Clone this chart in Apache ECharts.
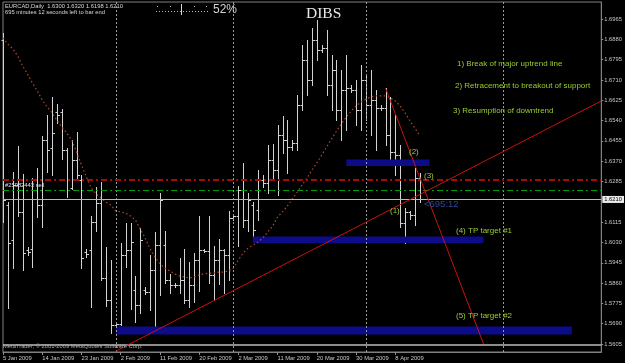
<!DOCTYPE html>
<html><head><meta charset="utf-8">
<script src="https://cdn.jsdelivr.net/npm/echarts@6/dist/echarts.min.js"></script>
<style>html,body{margin:0;padding:0;background:#000;}#c{width:625px;height:363px;}</style>
</head><body><div id="c"></div>
<script>
// ---- data ----
const dates = ['5 Jan 2009','6 Jan 2009','7 Jan 2009','8 Jan 2009','9 Jan 2009','11 Jan 2009','12 Jan 2009','13 Jan 2009','14 Jan 2009','15 Jan 2009',
'16 Jan 2009','18 Jan 2009','19 Jan 2009','20 Jan 2009','21 Jan 2009','22 Jan 2009','23 Jan 2009','25 Jan 2009','26 Jan 2009','27 Jan 2009',
'28 Jan 2009','29 Jan 2009','30 Jan 2009','1 Feb 2009','2 Feb 2009','3 Feb 2009','4 Feb 2009','5 Feb 2009','6 Feb 2009','8 Feb 2009',
'9 Feb 2009','10 Feb 2009','11 Feb 2009','12 Feb 2009','13 Feb 2009','15 Feb 2009','16 Feb 2009','17 Feb 2009','18 Feb 2009','19 Feb 2009',
'20 Feb 2009','22 Feb 2009','23 Feb 2009','24 Feb 2009','25 Feb 2009','26 Feb 2009','27 Feb 2009','1 Mar 2009','2 Mar 2009','3 Mar 2009',
'4 Mar 2009','5 Mar 2009','6 Mar 2009','8 Mar 2009','9 Mar 2009','10 Mar 2009','11 Mar 2009','12 Mar 2009','13 Mar 2009','15 Mar 2009',
'16 Mar 2009','17 Mar 2009','18 Mar 2009','19 Mar 2009','20 Mar 2009','22 Mar 2009','23 Mar 2009','24 Mar 2009','25 Mar 2009','26 Mar 2009',
'27 Mar 2009','29 Mar 2009','30 Mar 2009','31 Mar 2009','1 Apr 2009','2 Apr 2009','3 Apr 2009','5 Apr 2009','6 Apr 2009','7 Apr 2009',
'8 Apr 2009','9 Apr 2009','10 Apr 2009','12 Apr 2009','13 Apr 2009','14 Apr 2009'];
const opens = [1.6877,1.6187,1.6040,1.6270,1.6157,1.5999,1.6003,1.6250,1.6187,1.6459,
1.6426,1.6576,1.6576,1.6417,1.6258,1.6375,1.6291,1.5990,1.5999,1.6116,
1.6195,1.5881,1.5789,1.5685,1.5689,1.5978,1.5999,1.5831,1.5768,1.5831,
1.5823,1.5915,1.6019,1.6019,1.5873,1.5852,1.5852,1.5873,1.5789,1.5852,
1.5957,1.5999,1.5994,1.5894,1.5957,1.5999,1.5978,1.6132,1.6141,1.6250,
1.6124,1.6187,1.6166,1.6291,1.6279,1.6375,1.6333,1.6480,1.6459,1.6430,
1.6446,1.6605,1.6793,1.6710,1.6877,1.6835,1.6844,1.6689,1.6752,1.6584,
1.6668,1.6676,1.6668,1.6584,1.6710,1.6605,1.6626,1.6593,1.6593,1.6480,
1.6409,1.6396,1.6112,1.6157,1.6145,1.6300];
const highs = [1.6906,1.6200,1.6325,1.6434,1.6317,1.6011,1.6300,1.6342,1.6475,1.6563,
1.6639,1.6609,1.6588,1.6425,1.6459,1.6492,1.6312,1.6003,1.6141,1.6262,
1.6283,1.6011,1.5957,1.5698,1.6028,1.6112,1.6112,1.5890,1.6091,1.5844,
1.5978,1.6074,1.6237,1.6078,1.5898,1.5860,1.5965,1.6003,1.5948,1.5986,
1.6141,1.6003,1.6141,1.6015,1.6045,1.6003,1.6162,1.6149,1.6266,1.6363,
1.6237,1.6200,1.6333,1.6312,1.6438,1.6442,1.6521,1.6559,1.6542,1.6459,
1.6647,1.6856,1.6877,1.6927,1.6961,1.6856,1.6919,1.6814,1.6793,1.6752,
1.6814,1.6689,1.6710,1.6772,1.6731,1.6752,1.6668,1.6605,1.6676,1.6639,
1.6563,1.6438,1.6174,1.6162,1.6342,1.6320];
const lows = [1.6115,1.5756,1.5923,1.6141,1.5915,1.5978,1.5927,1.6137,1.6095,1.6325,
1.6312,1.6530,1.6379,1.6220,1.6254,1.6291,1.5923,1.5969,1.5760,1.6078,
1.5873,1.5764,1.5651,1.5677,1.5685,1.5927,1.5751,1.5697,1.5735,1.5814,
1.5747,1.5676,1.5810,1.5860,1.5818,1.5844,1.5818,1.5777,1.5760,1.5781,
1.5827,1.5990,1.5860,1.5793,1.5856,1.5818,1.5873,1.6124,1.6015,1.6095,
1.6078,1.6049,1.6124,1.6262,1.6237,1.6291,1.6229,1.6404,1.6321,1.6417,
1.6417,1.6584,1.6647,1.6689,1.6793,1.6826,1.6647,1.6584,1.6542,1.6459,
1.6501,1.6660,1.6521,1.6501,1.6542,1.6480,1.6417,1.6584,1.6438,1.6375,
1.6312,1.6095,1.6028,1.6128,1.6103,1.6198];
const closes = [1.6208,1.6028,1.6270,1.6157,1.5986,1.5990,1.6250,1.6187,1.6459,1.6417,
1.6488,1.6563,1.6417,1.6250,1.6375,1.6312,1.5965,1.5982,1.6116,1.6195,
1.5881,1.5789,1.5685,1.5689,1.5978,1.5999,1.6032,1.5768,1.6040,1.5823,
1.5915,1.6019,1.6208,1.5873,1.5852,1.5852,1.5873,1.5789,1.5852,1.5957,
1.5999,1.5994,1.5894,1.5957,1.5999,1.5978,1.6132,1.6141,1.6250,1.6124,
1.6208,1.6082,1.6291,1.6279,1.6375,1.6333,1.6480,1.6459,1.6430,1.6446,
1.6605,1.6793,1.6710,1.6877,1.6835,1.6844,1.6689,1.6752,1.6584,1.6668,
1.6676,1.6668,1.6584,1.6710,1.6605,1.6626,1.6593,1.6593,1.6480,1.6409,
1.6396,1.6112,1.6157,1.6145,1.6300,1.6210];
const movingAverage = [1.6886,1.6860,1.6840,1.6810,1.6768,1.6735,1.6697,1.6664,1.6626,1.6597,
1.6572,1.6542,1.6513,1.6488,1.6459,1.6409,1.6354,1.6304,1.6258,1.6233,
1.6216,1.6199,1.6187,1.6162,1.6158,1.6153,1.6141,1.6124,1.6086,1.6049,
1.6003,1.5969,1.5940,1.5923,1.5911,1.5898,1.5890,1.5886,1.5881,1.5886,
1.5894,1.5898,1.5902,1.5902,1.5906,1.5906,1.5911,1.5923,1.5957,1.5986,
1.6007,1.6019,1.6032,1.6049,1.6074,1.6099,1.6137,1.6158,1.6183,1.6212,
1.6241,1.6271,1.6300,1.6333,1.6363,1.6396,1.6429,1.6463,1.6496,1.6526,
1.6555,1.6580,1.6601,1.6618,1.6630,1.6639,1.6643,1.6643,1.6643,1.6635,
1.6622,1.6601,1.6572,1.6538,1.6509,1.6476];
const xTickLabels = ['5 Jan 2009','14 Jan 2009','23 Jan 2009','2 Feb 2009','11 Feb 2009','20 Feb 2009','2 Mar 2009','11 Mar 2009','20 Mar 2009','30 Mar 2009','8 Apr 2009'];
const yTickLabels = [1.5605,1.5690,1.5775,1.5860,1.5945,1.6030,1.6115,1.6285,1.6370,1.6455,1.6540,1.6625,1.6710,1.6795,1.6880,1.6965];
const bidPrice = 1.6210;
const orderPrice = 1.6291;
const targetLevel = 1.6247;
const floorLevel = 1.5600;
const separatorIdx = [23, 47, 74, 102];
const zones = [[70, 87, 1.6377, 1.6350], [51, 98, 1.6055, 1.6028], [23, 116, 1.5678, 1.5645]];
const uptrend = [[23, 1.5575], [122, 1.6622]];
const downtrend = [[78, 1.6676], [98, 1.5605]];
const futureSlots = 37;

// ---- build ----
const categories = dates.concat(Array.from({length: futureSlots}, (_, k) => 'f' + k));
const ohlc = dates.map((d, i) => [i, opens[i], closes[i], lows[i], highs[i]]);
const SMALL = 'Liberation Sans';
const BAR_COLOR = '#d2d2d2';
const showTick = (idx, val) => xTickLabels.indexOf(val) >= 0;

function renderOHLC(params, api) {
  const i = api.value(0);
  const pO = api.coord([i, api.value(1)]);
  const pC = api.coord([i, api.value(2)]);
  const pL = api.coord([i, api.value(3)]);
  const pH = api.coord([i, api.value(4)]);
  const x = Math.round(pH[0]) + 0.5;
  const yo = Math.round(pO[1]) + 0.5, yc = Math.round(pC[1]) + 0.5;
  const st = {stroke: BAR_COLOR, lineWidth: 1};
  return {type: 'group', children: [
    {type: 'line', shape: {x1: x, y1: Math.round(pH[1]), x2: x, y2: Math.round(pL[1]) + 1}, style: st},
    {type: 'line', shape: {x1: x - 2, y1: yo, x2: x, y2: yo}, style: st},
    {type: 'line', shape: {x1: x, y1: yc, x2: x + 2.5, y2: yc}, style: st}
  ]};
}

const markLines = [];
separatorIdx.forEach(s => markLines.push({xAxis: s, lineStyle: {color: '#9a9a9a', type: [2, 2], width: 1}}));
markLines.push({yAxis: floorLevel, lineStyle: {color: '#bdbdbd', type: 'solid', width: 1.5}});
markLines.push({yAxis: orderPrice, lineStyle: {color: '#a00c0c', type: [6, 3, 2, 3], width: 2}});
markLines.push({yAxis: targetLevel, lineStyle: {color: '#00a000', type: [6, 3, 2, 3], width: 1}});
markLines.push({yAxis: bidPrice, lineStyle: {color: '#cbb690', type: 'solid', width: 1},
  label: {show: true, position: 'end', distance: 1, formatter: bidPrice.toFixed(4), color: '#000',
    backgroundColor: '#ececec', padding: [1, 2, 0, 2], fontSize: 5.8, fontFamily: SMALL}});
markLines.push([{coord: uptrend[0]}, {coord: uptrend[1], lineStyle: {color: '#c81212', width: 1, type: 'solid'}}]);
markLines.push([{coord: downtrend[0]}, {coord: downtrend[1], lineStyle: {color: '#c81212', width: 1, type: 'solid'}}]);

const greenTexts = [
  ['1) Break of major uptrend line', 457, 63.5],
  ['2) Retracement to breakout of support', 455, 85.5],
  ['3) Resumption of downtrend', 453, 111],
  ['(4) TP target #1', 456, 231],
  ['(5) TP target #2', 456, 316],
  ['(1)', 390, 211],
  ['(2)', 409, 151.5],
  ['(3)', 424, 175.5]
];
const txt = (t, x, y, font, fill, valign) => ({type: 'text', x: x, y: y, z: 100, silent: true,
  style: {text: t, font: font, fill: fill, textVerticalAlign: valign || 'middle'}});

const graphics = [
  txt('EURCAD,Daily  1.6300 1.6320 1.6198 1.6210', 5, 6.5, '5.8px ' + SMALL, '#dadada'),
  txt('695 minutes 12 seconds left to bar end', 5, 12.5, '5.8px ' + SMALL, '#dadada'),
  txt('52%', 213, 9.5, '12px ' + SMALL, '#d4d4d4'),
  txt('DIBS', 306, 14, '15.5px "Liberation Serif"', '#e8e8e8'),
  txt('#25982443 sell', 5, 185.5, '5.8px ' + SMALL, '#e0e0e0'),
  txt('MetaTrader, \u00a9 2001-2009 MetaQuotes Software Corp.', 3, 346.5, '5.8px ' + SMALL, '#a8a8a8'),
  txt('<695:12', 424, 204, '9.5px ' + SMALL, '#2f4898'),
  {type: 'line', z: 100, silent: true, shape: {x1: 156, y1: 11.5, x2: 208, y2: 11.5}, style: {stroke: '#b8b8b8', lineDash: [1, 2], lineWidth: 1}},
  {type: 'line', z: 100, silent: true, shape: {x1: 181.5, y1: 4, x2: 181.5, y2: 15}, style: {stroke: '#d8d8d8', lineWidth: 1}},
  {type: 'rect', z: 100, silent: true, shape: {x: 157, y: 6, width: 1, height: 1}, style: {fill: '#b8b8b8'}},
  {type: 'rect', z: 100, silent: true, shape: {x: 170, y: 6, width: 1, height: 1}, style: {fill: '#b8b8b8'}},
  {type: 'rect', z: 100, silent: true, shape: {x: 194, y: 6, width: 1, height: 1}, style: {fill: '#b8b8b8'}},
  {type: 'rect', z: 100, silent: true, shape: {x: 206, y: 6, width: 1, height: 1}, style: {fill: '#b8b8b8'}}
];
greenTexts.forEach(g => graphics.push(txt(g[0], g[1], g[2], '8px ' + SMALL, '#9acd32')));

const chart = echarts.init(document.getElementById('c'), null, {renderer: 'canvas', devicePixelRatio: 1});
chart.setOption({
  backgroundColor: '#000000',
  animation: false,
  grid: {left: 2, right: 23, top: 2, bottom: 11, show: true, borderColor: '#808080', borderWidth: 1, backgroundColor: 'transparent'},
  xAxis: {
    type: 'category', data: categories, boundaryGap: false,
    axisLine: {show: true, lineStyle: {color: '#808080'}},
    axisTick: {show: true, interval: showTick, length: 3, lineStyle: {color: '#909090'}},
    axisLabel: {interval: showTick, align: 'left', color: '#c8c8c8', fontSize: 5.8, fontFamily: SMALL, margin: 3},
    splitLine: {show: false}
  },
  yAxis: {
    type: 'value', position: 'right', min: 1.55717, max: 1.70361,
    axisLine: {show: true, lineStyle: {color: '#808080'}},
    axisTick: {show: true, length: 2, customValues: yTickLabels, lineStyle: {color: '#909090'}},
    axisLabel: {customValues: yTickLabels, formatter: v => v.toFixed(4), color: '#c8c8c8', fontSize: 5.8, fontFamily: SMALL, margin: 3},
    splitLine: {show: false}
  },
  graphic: graphics,
  series: [
    {type: 'custom', name: 'EURCAD', z: 1, silent: true, renderItem: renderOHLC, data: ohlc, encode: {x: 0, y: [1, 2, 3, 4]}},
    {type: 'line', name: 'MA', z: 3, silent: true, data: movingAverage, symbol: 'none',
      lineStyle: {color: '#b0462a', width: 1.2, type: [1.5, 2.5]},
      markArea: {silent: true, z: 2, itemStyle: {color: '#0c0c8a', opacity: 1}, label: {show: false},
        data: zones.map(z => [{xAxis: z[0], yAxis: z[2]}, {xAxis: z[1], yAxis: z[3]}])},
      markLine: {silent: true, z: 5, symbol: ['none', 'none'], precision: 4, label: {show: false},
        lineStyle: {color: '#c81212', width: 1, type: 'solid'}, data: markLines}
    }
  ]
});
</script></body></html>
